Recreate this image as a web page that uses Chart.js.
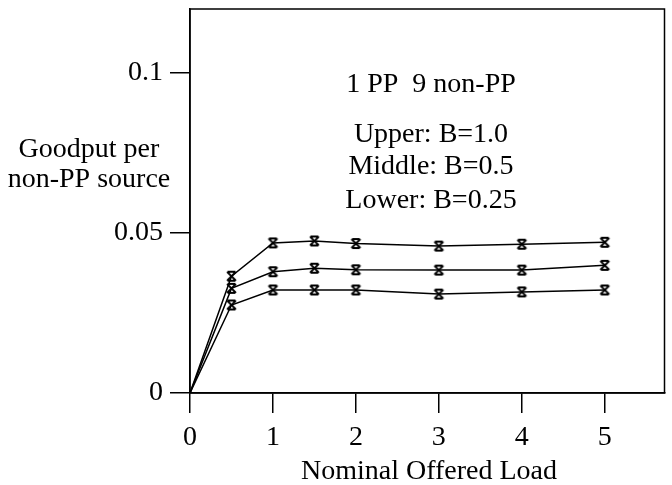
<!DOCTYPE html>
<html>
<head>
<meta charset="utf-8">
<script src="https://cdn.jsdelivr.net/npm/chart.js@4"></script>
<style>
  html, body { margin: 0; padding: 0; background: #fff; }
  #wrap { width: 672px; height: 485px; }
</style>
</head>
<body>
<div id="wrap"><canvas id="c" width="672" height="485"></canvas></div>
<script>
/* goodput chart */

const loads  = [0, 0.5, 1, 1.5, 2, 3, 4, 5];
const upper  = [0, 0.0365, 0.0469, 0.0475, 0.0467, 0.0459, 0.0465, 0.0471];
const middle = [0, 0.0327, 0.0379, 0.0390, 0.0385, 0.0384, 0.0384, 0.0399];
const lower  = [0, 0.0275, 0.0322, 0.0322, 0.0322, 0.0309, 0.0316, 0.0322];
const xTicks = [0, 1, 2, 3, 4, 5];
const yTicks = [0, 0.05, 0.1];
const notes  = ['1 PP  9 non-PP', 'Upper: B=1.0', 'Middle: B=0.5', 'Lower: B=0.25'];

const FONT = '"Liberation Serif", "DejaVu Serif", serif';

/* ── hourglass-ish x marker ── */
function makeMarker() {
    const c = document.createElement('canvas');
    c.width = 13; c.height = 13;
    const g = c.getContext('2d');
    g.strokeStyle = '#000';
    g.lineWidth = 1.8;
    g.beginPath();
    g.moveTo(2, 2);  g.lineTo(11, 11);
    g.moveTo(11, 2); g.lineTo(2, 11);
    g.moveTo(3, 2);  g.lineTo(10, 2);
    g.moveTo(3, 11); g.lineTo(10, 11);
    g.stroke();
    return c;
}
const marker = makeMarker();

const toXY = arr => arr.map((v, i) => ({ x: loads[i], y: v }));
const ds = arr => ({
    data: toXY(arr),
    borderColor: '#000',
    borderWidth: 1.5,
    pointStyle: marker,
    pointRadius: ctx => ctx.dataIndex === 0 ? 0 : 6,
    tension: 0,
    fill: false
});

const frame = {
    id: 'frame',
    afterDraw(chart) {
        const { ctx, chartArea: a } = chart;
        ctx.save();
        ctx.strokeStyle = '#000';
        ctx.lineWidth = 1.5;
        ctx.strokeRect(a.left, a.top, a.right - a.left, a.bottom - a.top);

        ctx.fillStyle = '#000';
        ctx.font = '28px ' + FONT;
        ctx.textAlign = 'center';
        ctx.textBaseline = 'alphabetic';
        ctx.fillText(notes[0], 431, 92);
        ctx.fillText(notes[1], 431, 142);
        ctx.fillText(notes[2], 431, 174);
        ctx.fillText(notes[3], 431, 208);

        ctx.fillText('Goodput per', 89, 157);
        ctx.fillText('non-PP source', 89, 187);
        ctx.fillText('Nominal Offered Load', 429, 479);
        ctx.restore();
    }
};

new Chart(document.getElementById('c').getContext('2d'), {
    type: 'line',
    data: { datasets: [ds(upper), ds(middle), ds(lower)] },
    options: {
        responsive: false,
        animation: false,
        layout: { padding: { top: 9, right: 0, left: 0, bottom: 0 } },
        plugins: { legend: { display: false }, tooltip: { enabled: false } },
        scales: {
            x: {
                type: 'linear', min: 0, max: 5.72,
                afterBuildTicks: s => { s.ticks = xTicks.map(v => ({ value: v })); },
                afterFit: s => { s.height = 92; s.paddingLeft = 0; s.paddingRight = 0; },
                grid: { drawOnChartArea: false, drawTicks: true, tickLength: 20, color: '#000', lineWidth: 1.5 },
                border: { color: '#000', width: 1.5 },
                ticks: { color: '#000', font: { family: FONT, size: 28 }, padding: 8, maxRotation: 0 }
            },
            y: {
                type: 'linear', min: 0, max: 0.12,
                afterBuildTicks: s => { s.ticks = yTicks.map(v => ({ value: v })); },
                afterFit: s => { s.width = 190; s.paddingTop = 0; s.paddingBottom = 0; },
                grid: { drawOnChartArea: false, drawTicks: true, tickLength: 20, color: '#000', lineWidth: 1.5 },
                border: { color: '#000', width: 1.5 },
                ticks: { color: '#000', font: { family: FONT, size: 28 }, padding: 7, callback: v => String(v) }
            }
        }
    },
    plugins: [frame]
});
</script>
</body>
</html>
